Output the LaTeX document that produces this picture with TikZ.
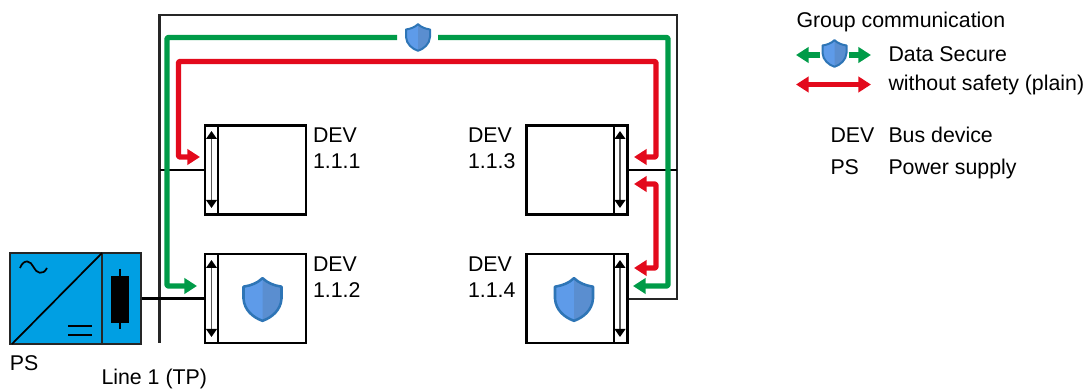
\documentclass[tikz,border=0pt]{standalone}
\usepackage{fontspec}
\setmainfont{Liberation Sans}
\usetikzlibrary{arrows.meta}
\definecolor{busgreen}{HTML}{009B48}
\definecolor{busred}{HTML}{E30A1C}
\definecolor{psblue}{HTML}{009FE3}
\definecolor{shieldl}{HTML}{5E9BE9}
\definecolor{shieldr}{HTML}{5A8ED0}
\definecolor{shieldb}{HTML}{2E75B6}
\definecolor{linecol}{HTML}{262626}
\tikzset{
  x=0.75pt,y=-0.75pt,
  lbl/.style={anchor=base west,inner sep=0pt,outer sep=0pt,font=\fontsize{16}{19.5}\selectfont,text=black},
  devlbl/.style={anchor=north west,inner sep=0pt,outer sep=0pt,align=left,font=\fontsize{16}{19.5}\selectfont,text=black},
  devbox/.style={draw=black,line width=1.9pt,fill=white,inner sep=0pt,minimum width=75.75pt,minimum height=66.75pt},
  bus/.style={draw=linecol,line width=2pt,line join=miter},
  stub/.style={draw=black,line width=1.7pt},
  wire/.style={line width=4pt,line join=round,rounded corners=0.8pt},
  headend/.style={-{Triangle[length=9.5pt,width=11.5pt,sep=0pt]}},
  headboth/.style={{Triangle[length=9.5pt,width=11.5pt]}-{Triangle[length=9.5pt,width=11.5pt]}},
  greenw/.style={wire,draw=busgreen,color=busgreen},
  redw/.style={wire,draw=busred,color=busred},
  inner arrow/.style={draw=black!65,line width=1.3pt,{Triangle[length=6pt,width=8pt,color=black]}-{Triangle[length=6pt,width=8pt,color=black]}},
  pics/shield/.style={code={%
    \fill[shieldl] (0,-.5) .. controls (.14,-.38) and (.3,-.33) .. (.5,-.3) -- (.5,-.02) .. controls (.48,.25) and (.25,.42) .. (0,.5) .. controls (-.25,.42) and (-.48,.25) .. (-.5,-.02) -- (-.5,-.3) .. controls (-.3,-.33) and (-.14,-.38) .. (0,-.5) -- cycle;
    \fill[shieldr] (0,-.5) .. controls (.14,-.38) and (.3,-.33) .. (.5,-.3) -- (.5,-.02) .. controls (.48,.25) and (.25,.42) .. (0,.5) -- cycle;
    \draw[shieldb,line width=#1,line join=round] (0,-.5) .. controls (.14,-.38) and (.3,-.33) .. (.5,-.3) -- (.5,-.02) .. controls (.48,.25) and (.25,.42) .. (0,.5) .. controls (-.25,.42) and (-.48,.25) .. (-.5,-.02) -- (-.5,-.3) .. controls (-.3,-.33) and (-.14,-.38) .. (0,-.5) -- cycle;
  }},
}
\begin{document}
\begin{tikzpicture}
\useasboundingbox (0,0) rectangle (1090,391);
% bus frame
\coordinate (busbottom) at (159.5,343);
\coordinate (bustl) at (159.5,15);
\coordinate (bustr) at (677,15);
\coordinate (busbr) at (677,299);
% devices
\node[devbox] (dev111) at (255.5,170) {};
\node[devbox] (dev112) at (255.5,298.5) {};
\node[devbox] (dev113) at (576.75,170) {};
\node[devbox] (dev114) at (576.75,298.5) {};
% frame and stubs
\draw[bus] (busbottom) -- (bustl) -- (bustr) -- (busbr) -- (busbr -| dev114.east);
\draw[stub] (dev113.east) -- (dev113.east -| bustr);
\draw[stub] (dev111.west -| bustl) -- (dev111.west);
% power supply
\node[draw=linecol,line width=1.7pt,fill=psblue,inner sep=0pt,minimum width=98pt,minimum height=68pt] (ps) at (75.5,298.5) {};
\draw[stub] (ps.east) -- (dev112.west);
\draw[draw=linecol,line width=1.6pt] (102,253) -- (102,344);
\draw[black,line width=1.3pt] (12,344) -- (102,253);
\draw[black,line width=1.3pt] (20,268) .. controls (24,258) and (31,261) .. (33.5,267) .. controls (36,273) and (43,276) .. (47,268);
\draw[black,line width=1.3pt] (68,326) -- (92,326) (68,335) -- (92,335);
\fill[black] (111,276) rectangle (129,323);
\draw[black,line width=1.3pt] (120,269) -- (120,329);
% device dividers
\draw[black,line width=1.7pt] (218,125) -- (218,215) (218,254) -- (218,343) (614,125) -- (614,215) (614,254) -- (614,343);
\draw[inner arrow] (211.5,131) -- (211.5,208);
\draw[inner arrow] (211.5,260) -- (211.5,337);
\draw[inner arrow] (620,131) -- (620,208);
\draw[inner arrow] (620,260) -- (620,337);
% green group
\coordinate (g1) at (397,37.5);
\coordinate (g2) at (438,37.5);
\draw[greenw,headend] (g1) -- (167,37.5) -- (167,286) -- (197,286);
\draw[greenw,headend] (g2) -- (668,37.5) -- (668,286) -- (633,286);
% red group
\draw[redw,headboth] (200,157) -- (178.5,157) -- (178.5,61.5) -- (656,61.5) -- (656,157) -- (634,157);
\draw[redw,headboth] (634,184) -- (656,184) -- (656,268) -- (634,268);
% shields
\path (418,37.5) pic[x=18pt,y=-20pt] {shield=1.5pt};
\path (262.5,299.5) pic[x=28.5pt,y=-32pt] {shield=1.9pt};
\path (574,299.5) pic[x=28.5pt,y=-32pt] {shield=1.9pt};
\path (834.5,53.5) pic[x=18pt,y=-20pt] {shield=1.5pt};
% device labels
\node[devlbl] (l111) at (313,127.5) {DEV\\1.1.1};
\node[devlbl] (l112) at (313,256.5) {DEV\\1.1.2};
\node[devlbl] (l113) at (468,127.5) {DEV\\1.1.3};
\node[devlbl] (l114) at (468,256.5) {DEV\\1.1.4};
\node[lbl] (lps) at (10,370.5) {PS};
\node[lbl] (lline) at (101.5,385) {Line 1 (TP)};
% legend
\node[lbl] (lgroup) at (796.5,28) {Group communication};
\node[lbl] (ldata) at (888.5,62) {Data Secure};
\node[lbl] (lplain) at (888.5,91) {without safety (plain)};
\node[lbl] (kdev) at (830.5,143) {DEV};
\node[lbl] (ldev) at (888.5,143) {Bus device};
\node[lbl] (kps) at (830.5,175) {PS};
\node[lbl] (lpwr) at (888.5,175) {Power supply};
\coordinate (la1) at (820,55);
\coordinate (la2) at (796,55);
\coordinate (la3) at (848.5,55);
\coordinate (la4) at (871,55);
\coordinate (lb1) at (796,84.5);
\coordinate (lb2) at (871,84.5);
\draw[greenw,headend] (la1) -- (la2);
\draw[greenw,headend] (la3) -- (la4);
\draw[redw,headboth] (lb1) -- (lb2);
\end{tikzpicture}
\end{document}
